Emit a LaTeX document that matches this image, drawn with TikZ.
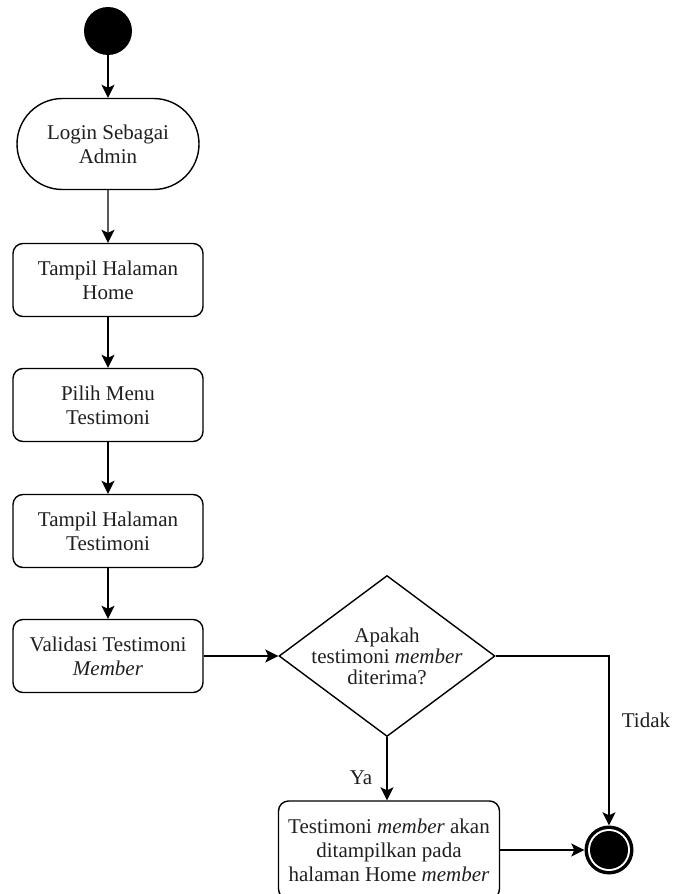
\documentclass[tikz,border=0pt]{standalone}
\usepackage{fontspec}
\setmainfont{Liberation Serif}
\usetikzlibrary{shapes.geometric,shapes.misc,arrows.meta}
\begin{document}
\begin{tikzpicture}[x=1pt,y=-1pt,
  txt/.style={font=\fontsize{21}{24}\selectfont, text=black!88},
  act/.style={txt, draw, line width=1.4pt, rounded corners=10pt, minimum width=190pt, minimum height=73pt, align=center, inner sep=0pt},
  flow/.style={line width=1.4pt, -{Stealth[length=13pt,width=13pt,inset=3pt]}},
]
\useasboundingbox (0,0) rectangle (673,894);
\node[circle, fill=black, minimum size=48pt, inner sep=0pt] (start) at (108,31) {};
\node[txt, draw, line width=1.4pt, rounded rectangle, minimum width=182pt, minimum height=91pt, inner sep=0pt, align=center] (login) at (108,144) {Login Sebagai\\Admin};
\node[act] (home) at (108,280) {Tampil Halaman\\Home};
\node[act] (menu) at (108,405) {Pilih Menu\\Testimoni};
\node[act] (tampil) at (108,531) {Tampil Halaman\\Testimoni};
\node[act] (valid) at (108,656) {Validasi Testimoni\\\textit{Member}};
\node[diamond, draw, line width=1.4pt, minimum width=216pt, minimum height=161pt, inner sep=0pt] (dec) at (387,656) {};
\node[txt, align=center, font=\fontsize{21}{21}\selectfont] (dectext) at (dec.center) {Apakah\\testimoni \textit{member}\\diterima?};
\node[act, minimum width=221pt, minimum height=98pt] (show) at (389,850) {Testimoni \textit{member} akan\\ditampilkan pada\\halaman Home \textit{member}};
\node[circle, fill=black, minimum size=49pt, inner sep=0pt] (fin) at (609,850) {};
\fill[white] (fin.center) circle (21);
\fill[black] (fin.center) circle (19);
\node[txt] (tidak) at (646,720) {Tidak};
\node[txt] (ya) at (361,778) {Ya};
\draw[flow] (start) -- (login);
\draw[flow] (login) -- (home);
\draw[flow] (home) -- (menu);
\draw[flow] (menu) -- (tampil);
\draw[flow] (tampil) -- (valid);
\draw[flow] (valid) -- (dec);
\draw[flow] (dec.east) -| (fin.north);
\draw[flow] (dec.south) -- (dec.south |- show.north);
\draw[flow] (show) -- (fin);
\end{tikzpicture}
\end{document}
